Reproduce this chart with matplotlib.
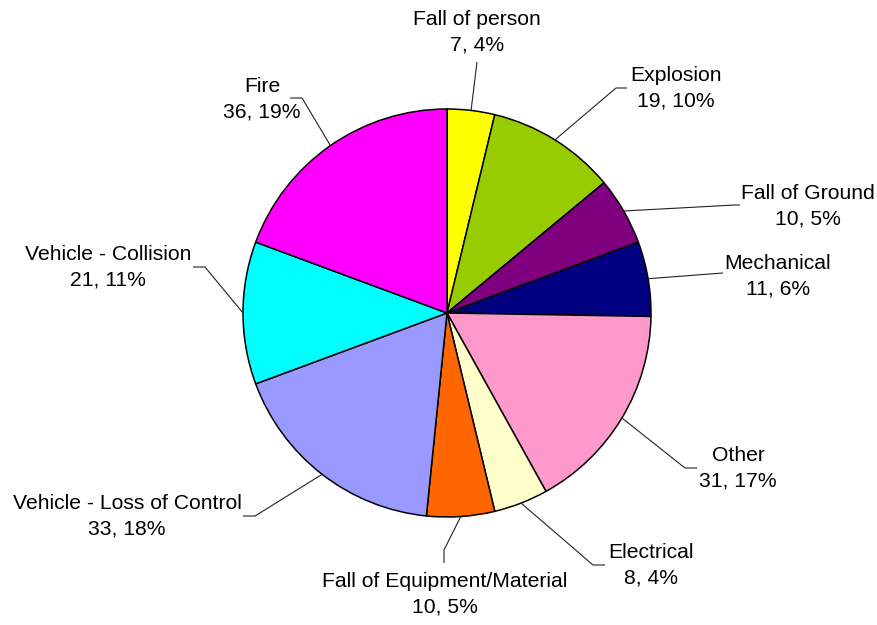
import numpy as np
import matplotlib
matplotlib.use("Agg")
import matplotlib.pyplot as plt

plt.rcParams['font.family'] = ['Liberation Sans', 'DejaVu Sans']

# data, clockwise from 12 o'clock
causes = ["Fall of person", "Explosion", "Fall of Ground", "Mechanical", "Other",
          "Electrical", "Fall of Equipment/Material", "Vehicle - Loss of Control",
          "Vehicle - Collision", "Fire"]
counts = [7, 19, 10, 11, 31, 8, 10, 33, 21, 36]
colors = ["#FFFF00", "#99CC00", "#800080", "#000080", "#FF99CC",
          "#FFFFCC", "#FF6600", "#9999FF", "#00FFFF", "#FF00FF"]

W, H = 877, 625
CX, CY, R = 447, 313, 204  # pie centre / radius in pixels (y from top)

# label centres and leader-line start/elbow (pixels, y from top)
label_xy = [(477, 32), (676, 88), (808, 206), (778, 276), (738, 468),
            (651, 565), (445, 594), (127, 516), (108, 267), (262, 99)]
line_start = [(477, 62), (627, 88), (740, 205), (723, 273), (697, 468),
              (605, 565), (444, 563), (243, 516), (193, 267), (290, 98)]
line_elbow = [None, (616, 88), (735, 205), None, (685, 468),
              (593, 565), (444, 550), (255, 516), (205, 267), (302, 98)]


def flip(p):
    return (p[0], H - p[1])


fig = plt.figure(figsize=(W / 100, H / 100), dpi=100)
ax = fig.add_axes([0, 0, 1, 1])

wedges, _ = ax.pie(counts, colors=colors, startangle=90, counterclock=False,
                   center=(CX, H - CY), radius=R,
                   wedgeprops=dict(edgecolor="black", linewidth=1.1))

total = sum(counts)
for i, w in enumerate(wedges):
    mid = np.deg2rad((w.theta1 + w.theta2) / 2)
    end = (CX + R * np.cos(mid), H - CY + R * np.sin(mid))
    pts = [flip(line_start[i])]
    if line_elbow[i] is not None:
        pts.append(flip(line_elbow[i]))
    pts.append(end)
    xs, ys = zip(*pts)
    ax.plot(xs, ys, color="#222222", linewidth=0.8, solid_capstyle="butt")
    pct = round(counts[i] / total * 100)
    lx, ly = flip(label_xy[i])
    ax.text(lx, ly, f"{causes[i]}\n{counts[i]}, {pct}%", ha="center", va="center",
            fontsize=15.2, linespacing=1.45, color="black")

ax.set_xlim(0, W)
ax.set_ylim(0, H)
ax.set_aspect("equal")
ax.set_axis_off()
fig.savefig("out.png", dpi=100, facecolor="white")
